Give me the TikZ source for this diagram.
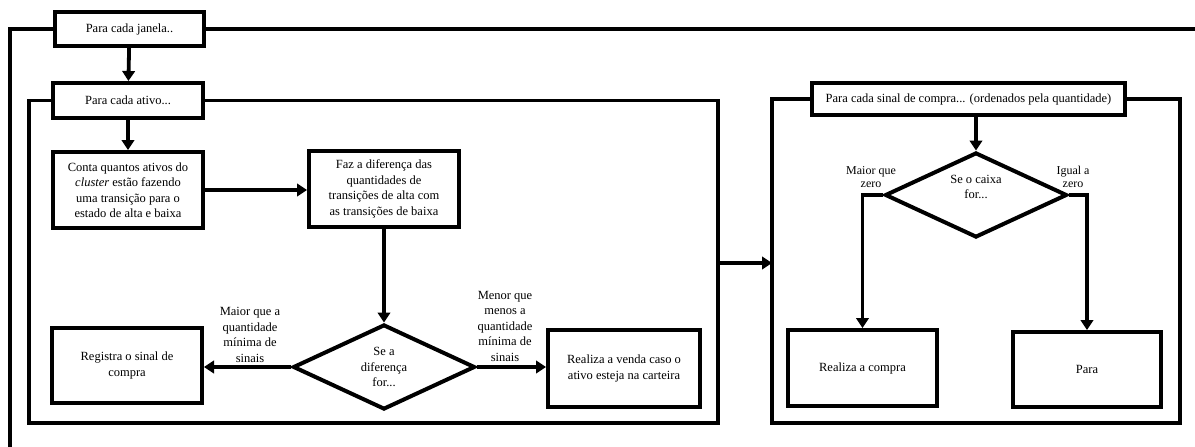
\documentclass[tikz,border=0pt]{standalone}
\usepackage{fontspec}
\setmainfont{Liberation Serif}
\usetikzlibrary{arrows.meta,shapes.geometric}
\begin{document}
\begin{tikzpicture}[x=1pt,y=-1pt,
  box/.style={draw,line width=4pt,rectangle,align=center,inner sep=2pt,font=\fontsize{12.5}{15.5}\selectfont},
  dia/.style={draw,line width=4pt,diamond,aspect=2.1,inner sep=0pt,align=center,font=\fontsize{12.5}{15.5}\selectfont},
  frame/.style={line width=3.8pt},
  arr/.style={line width=3.8pt,-{Triangle[length=10pt,width=12.5pt]}},
  lbl/.style={align=center,inner sep=0pt,font=\fontsize{12.5}{15.5}\selectfont},
  slbl/.style={align=center,inner sep=0pt,font=\fontsize{12}{13}\selectfont}]
\useasboundingbox (0,0) rectangle (1195,447);
% nodes
\node[box,minimum width=149pt,minimum height=34pt] (janela) at (129.5,29) {Para cada janela..};
\node[box,minimum width=150pt,minimum height=35pt] (ativo) at (128,100.5) {Para cada ativo...};
\node[box,minimum width=150pt,minimum height=76pt] (conta) at (128,190) {Conta quantos ativos do\\\textit{cluster} estão fazendo\\uma transição para o\\estado de alta e baixa};
\node[box,minimum width=150pt,minimum height=76pt] (faz) at (384,189) {Faz a diferença das\\quantidades de\\transições de alta com\\as transições de baixa};
\node[dia,minimum width=182pt,minimum height=85pt] (d1) at (384,367) {Se a\\diferença\\for...};
\node[box,minimum width=150pt,minimum height=75pt] (registra) at (127,365.5) {Registra o sinal de\\compra};
\node[box,minimum width=152pt,minimum height=77pt] (venda) at (624,368.5) {Realiza a venda caso o\\ativo esteja na carteira};
\node[lbl] (l1) at (250,335) {Maior que a\\quantidade\\mínima de\\sinais};
\node[lbl] (l2) at (505,326) {Menor que\\menos a\\quantidade\\mínima de\\sinais};
\node[box,minimum width=313pt,minimum height=32pt] (sinal) at (968.5,99) {Para cada sinal de compra... (ordenados pela quantidade)};
\node[dia,minimum width=182pt,minimum height=85pt] (d2) at (976,195) {Se o caixa\\for...\\[1pt]};
\node[box,minimum width=149pt,minimum height=76pt] (compra) at (862.5,368) {Realiza a compra};
\node[box,minimum width=148pt,minimum height=75pt] (para) at (1087,369.5) {Para};
\node[slbl] (l3) at (871,177) {Maior que\\zero};
\node[slbl] (l4) at (1073,177) {Igual a\\zero};
% frame coordinates
\coordinate (o1) at (10,447);
\coordinate (o2) at (1195,29);
\coordinate (f1bl) at (29,423);
\coordinate (f1r) at (718,0);
\coordinate (f2bl) at (772,423);
\coordinate (f2r) at (1180,0);
\coordinate (a1) at (718,263);
\coordinate (a2) at (772,263);
% frames
\draw[frame] (janela.west) -| (o1);
\draw[frame] (janela.east) -- (o2);
\draw[frame] (ativo.west) -| (f1bl) -| (ativo.east -| f1r) -- (ativo.east);
\draw[frame] (sinal.west) -| (f2bl) -| (sinal.east -| f2r) -- (sinal.east);
% connectors
\draw[arr] (janela) -- (ativo);
\draw[arr] (ativo) -- (conta);
\draw[arr] (conta) -- (conta -| faz.west);
\draw[arr] (faz) -- (d1);
\draw[arr] (d1.west) -- (d1.west -| registra.east);
\draw[arr] (d1.east) -- (d1.east -| venda.west);
\draw[arr] (a1) -- (a2);
\draw[arr] (sinal.south -| d2) -- (d2.north);
\draw[arr] (d2.west) -| (compra.north);
\draw[arr] (d2.east) -| (para.north);
\end{tikzpicture}
\end{document}
